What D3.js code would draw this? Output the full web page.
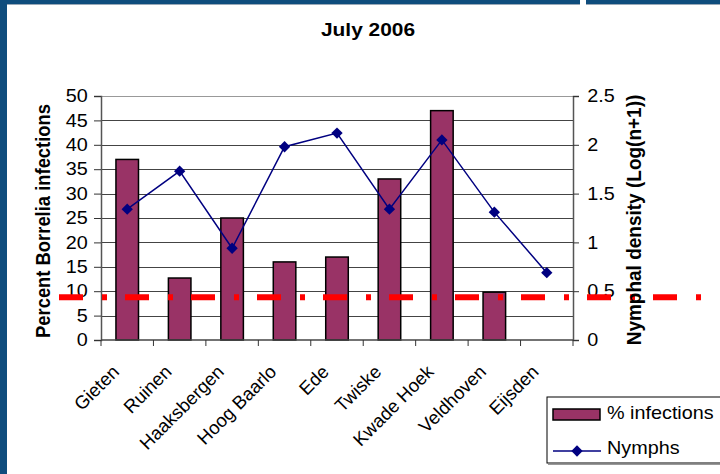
<!DOCTYPE html>
<html>
<head>
<meta charset="utf-8">
<script src="https://cdn.jsdelivr.net/npm/d3@7/dist/d3.min.js"></script>
<style>
body { margin: 0; background: #fff; }
text { font-family: "Liberation Sans", Arial, sans-serif; }
</style>
</head>
<body>
<div id="chart-area"></div>
<script>

// Data
var sites = ["Gieten", "Ruinen", "Haaksbergen", "Hoog Baarlo", "Ede", "Twiske", "Kwade Hoek", "Veldhoven", "Eijsden"];
var infections = [37, 12.7, 25, 16, 17, 33, 47, 9.8, null];
var nymphs = [1.34, 1.73, 0.94, 1.98, 2.12, 1.34, 2.05, 1.31, 0.69];
var leftTicks = [0, 5, 10, 15, 20, 25, 30, 35, 40, 45, 50];
var rightTicks = [0, 0.5, 1, 1.5, 2, 2.5];
var threshold = 8.75; // red dashed line, in percent units

var W = 720, H = 474;
var plot = {left: 101, right: 573, top: 96, bottom: 340};
var sx = 1.1; // text is a bit wider in the original

var svg = d3.select("#chart-area").append("svg")
    .attr("width", W)
    .attr("height", H);

// frame (slide border)
svg.append("rect").attr("x", 0).attr("y", 0).attr("width", W).attr("height", 4).attr("fill", "#0f4d7d");
svg.append("rect").attr("x", 0).attr("y", 4).attr("width", W).attr("height", 1).attr("fill", "#9aa9b8");
svg.append("rect").attr("x", 580).attr("y", 0).attr("width", 6).attr("height", 5).attr("fill", "#fff");
svg.append("rect").attr("x", 0).attr("y", 0).attr("width", 7).attr("height", H).attr("fill", "#0f4d7d");

// Scales
var x = d3.scaleBand()
    .domain(sites)
    .range([plot.left, plot.right])
    .paddingInner(0.57)
    .paddingOuter(0.285);

var xc = d3.scalePoint()
    .domain(sites)
    .range([plot.left, plot.right])
    .padding(0.5);

var y = d3.scaleLinear().domain([0, 50]).range([plot.bottom, plot.top]);
var y2 = d3.scaleLinear().domain([0, 2.5]).range([plot.bottom, plot.top]);

// gridlines
svg.append("g")
    .selectAll("line")
    .data(leftTicks.slice(1))
    .enter().append("line")
    .attr("x1", plot.left).attr("x2", plot.right)
    .attr("y1", function(d) { return Math.round(y(d)) + 0.5; })
    .attr("y2", function(d) { return Math.round(y(d)) + 0.5; })
    .attr("stroke", function(d) { return d == 50 ? "#999" : "#444"; })
    .attr("stroke-width", 1);

// bars
svg.append("g")
    .selectAll("rect")
    .data(sites.filter(function(s, i) { return infections[i] != null; }))
    .enter().append("rect")
    .attr("x", function(d) { return x(d); })
    .attr("width", x.bandwidth())
    .attr("y", function(d) { return y(infections[sites.indexOf(d)]); })
    .attr("height", function(d) { return plot.bottom - y(infections[sites.indexOf(d)]); })
    .attr("fill", "#993366")
    .attr("stroke", "#000")
    .attr("stroke-width", 1.5);

// axes
var yAxis = d3.axisLeft(y).tickValues(leftTicks).tickSize(7).tickPadding(5).tickFormat(d3.format("d"));
var yAxis2 = d3.axisRight(y2).tickValues(rightTicks).tickSize(6).tickPadding(7).tickFormat(function(d) { return String(d); });

var gl = svg.append("g")
    .attr("transform", "translate(" + plot.left + ",0)")
    .call(yAxis);
var gr = svg.append("g")
    .attr("transform", "translate(" + plot.right + ",0)")
    .call(yAxis2);

[gl, gr].forEach(function(g) {
    g.select(".domain").attr("stroke", "#555").attr("stroke-width", 1.5);
    g.selectAll(".tick line").attr("stroke", "#333");
    g.selectAll(".tick text").attr("font-size", 18).attr("fill", "#000")
        .attr("font-family", "Liberation Sans, Arial, sans-serif")
        .attr("transform", "scale(" + sx + ",1)");
});

// x axis with boundary ticks
var xg = svg.append("g");
xg.append("line")
    .attr("x1", plot.left).attr("x2", plot.right)
    .attr("y1", plot.bottom).attr("y2", plot.bottom)
    .attr("stroke", "#444").attr("stroke-width", 1.5);
var step = (plot.right - plot.left) / sites.length;
xg.selectAll(".xt")
    .data(d3.range(sites.length + 1))
    .enter().append("line")
    .attr("x1", function(i) { return plot.left + i * step; })
    .attr("x2", function(i) { return plot.left + i * step; })
    .attr("y1", plot.bottom).attr("y2", plot.bottom + 6)
    .attr("stroke", "#333");

xg.selectAll(".xl")
    .data(sites)
    .enter().append("text")
    .attr("transform", function(d) { return "translate(" + (xc(d) - 7) + "," + (plot.bottom + 33) + ") rotate(-45)"; })
    .attr("text-anchor", "end")
    .attr("font-size", 18.5)
    .text(function(d) { return d; });

// line + markers
var line = d3.line()
    .x(function(d, i) { return xc(sites[i]); })
    .y(function(d) { return y2(d); });

svg.append("path")
    .attr("d", line(nymphs))
    .attr("fill", "none")
    .attr("stroke", "#000080")
    .attr("stroke-width", 1.5);

var diamond = d3.symbol().type(d3.symbolSquare).size(64);
svg.append("g")
    .selectAll("path")
    .data(nymphs)
    .enter().append("path")
    .attr("d", diamond)
    .attr("transform", function(d, i) { return "translate(" + xc(sites[i]) + "," + y2(d) + ") rotate(45)"; })
    .attr("fill", "#000080");

// threshold line
svg.append("line")
    .attr("x1", 59).attr("x2", 701)
    .attr("y1", y(threshold)).attr("y2", y(threshold))
    .attr("stroke", "#ff0000")
    .attr("stroke-width", 6)
    .attr("stroke-dasharray", "24,19,5,18");

// titles
svg.append("text")
    .attr("transform", "translate(368,36) scale(" + sx + ",1)")
    .attr("text-anchor", "middle")
    .attr("font-size", 19).attr("font-weight", "bold")
    .text("July 2006");

svg.append("text")
    .attr("transform", "translate(50,221) scale(" + sx + ",1) rotate(-90)")
    .attr("text-anchor", "middle")
    .attr("font-size", 18.4).attr("font-weight", "bold")
    .text("Percent Borrelia infections");

svg.append("text")
    .attr("transform", "translate(641,220) scale(" + sx + ",1) rotate(-90)")
    .attr("text-anchor", "middle")
    .attr("font-size", 19).attr("font-weight", "bold")
    .text("Nymphal density (Log(n+1))");

// legend
var lg = svg.append("g");
lg.append("rect")
    .attr("x", 547).attr("y", 397).attr("width", 180).attr("height", 66)
    .attr("fill", "#fff").attr("stroke", "#000").attr("stroke-width", 1);
lg.append("line")
    .attr("x1", 548).attr("x2", 720).attr("y1", 464.5).attr("y2", 464.5)
    .attr("stroke", "#999").attr("stroke-width", 1);
lg.append("rect")
    .attr("x", 553).attr("y", 409).attr("width", 47).attr("height", 11)
    .attr("fill", "#993366").attr("stroke", "#000").attr("stroke-width", 1.5);
lg.append("text")
    .attr("transform", "translate(607,419) scale(" + sx + ",1)")
    .attr("font-size", 18).text("% infections");
lg.append("line")
    .attr("x1", 553).attr("x2", 601).attr("y1", 451).attr("y2", 451)
    .attr("stroke", "#000080").attr("stroke-width", 1.5);
lg.append("path")
    .attr("d", diamond)
    .attr("transform", "translate(577,451) rotate(45)")
    .attr("fill", "#000080");
lg.append("text")
    .attr("transform", "translate(607,454) scale(" + sx + ",1)")
    .attr("font-size", 18).text("Nymphs");

</script>
</body>
</html>
